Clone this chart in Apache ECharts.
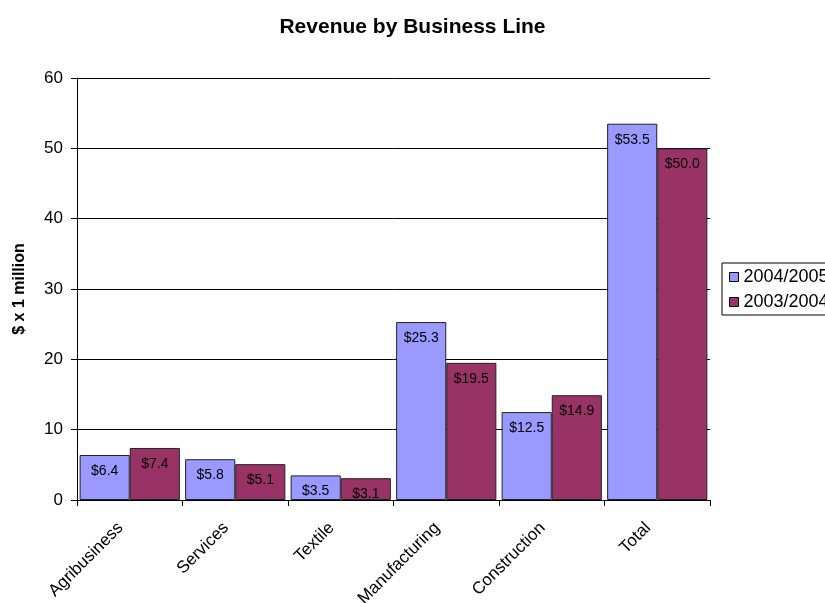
<!DOCTYPE html>
<html>
<head>
<meta charset="utf-8">
<script src="https://cdn.jsdelivr.net/npm/echarts@6/dist/echarts.min.js"></script>
<style>
  html, body { margin: 0; padding: 0; background: #fff; }
  #chart { width: 825px; height: 603px; }
</style>
</head>
<body>
<div id="chart"></div>
<script>
// Revenue per business line, two fiscal years ($ millions)
const categories = ['Agribusiness', 'Services', 'Textile', 'Manufacturing', 'Construction', 'Total'];
const seriesNames = ['2004/2005', '2003/2004'];
const revenue0405 = [6.4, 5.8, 3.5, 25.3, 12.5, 53.5];
const revenue0304 = [7.4, 5.1, 3.1, 19.5, 14.9, 50.0];
const yTicks = { min: 0, max: 60, interval: 10 };

const FONT = 'Liberation Sans, Arial, sans-serif';

const chart = echarts.init(document.getElementById('chart'), null, { renderer: 'canvas' });

function barSeries(name, data, color) {
  return {
    name: name,
    type: 'bar',
    data: data,
    barGap: '0%',
    barCategoryGap: '5%',
    itemStyle: { color: color, borderColor: '#222', borderWidth: 1 },
    label: {
      show: true,
      position: 'insideTop',
      distance: 9,
      color: '#000',
      fontFamily: FONT,
      fontSize: 14,
      formatter: p => '$' + p.value.toFixed(1)
    }
  };
}

chart.setOption({
  animation: false,
  backgroundColor: '#fff',
  title: {
    text: 'Revenue by Business Line',
    left: 'center',
    top: 12,
    textStyle: { fontFamily: FONT, fontSize: 21, fontWeight: 'bold', color: '#000' }
  },
  legend: {
    orient: 'vertical',
    left: 722,
    top: 263,
    itemWidth: 9,
    itemHeight: 9,
    itemGap: 7,
    padding: [5, 10, 4, 7],
    borderColor: '#000',
    borderWidth: 1,
    icon: 'rect',
    textStyle: { fontFamily: FONT, fontSize: 18, color: '#000' },
    itemStyle: { borderColor: '#000', borderWidth: 1 },
    data: seriesNames
  },
  grid: { left: 77, right: 115, top: 78, bottom: 103, containLabel: false, outerBoundsMode: 'none' },
  xAxis: {
    type: 'category',
    data: categories,
    axisLine: { lineStyle: { color: '#000', width: 1 } },
    axisTick: { show: true, length: 6, lineStyle: { color: '#000' } },
    axisLabel: {
      rotate: 45,
      margin: 16,
      padding: [0, 13, 0, 0],
      color: '#000',
      fontFamily: FONT,
      fontSize: 17
    }
  },
  yAxis: {
    type: 'value',
    min: yTicks.min,
    max: yTicks.max,
    interval: yTicks.interval,
    name: '$ x 1 million',
    nameLocation: 'middle',
    nameGap: 49,
    nameRotate: 90,
    nameTextStyle: { fontFamily: FONT, fontSize: 16, fontWeight: 'bold', color: '#000' },
    axisLine: { show: true, lineStyle: { color: '#000', width: 1 } },
    axisTick: { show: true, length: 6, lineStyle: { color: '#000' } },
    axisLabel: { color: '#000', fontFamily: FONT, fontSize: 17, margin: 14 },
    splitLine: { show: true, lineStyle: { color: '#000', width: 1 } }
  },
  series: [
    barSeries(seriesNames[0], revenue0405, '#9999FF'),
    barSeries(seriesNames[1], revenue0304, '#993366')
  ]
});
</script>
</body>
</html>
